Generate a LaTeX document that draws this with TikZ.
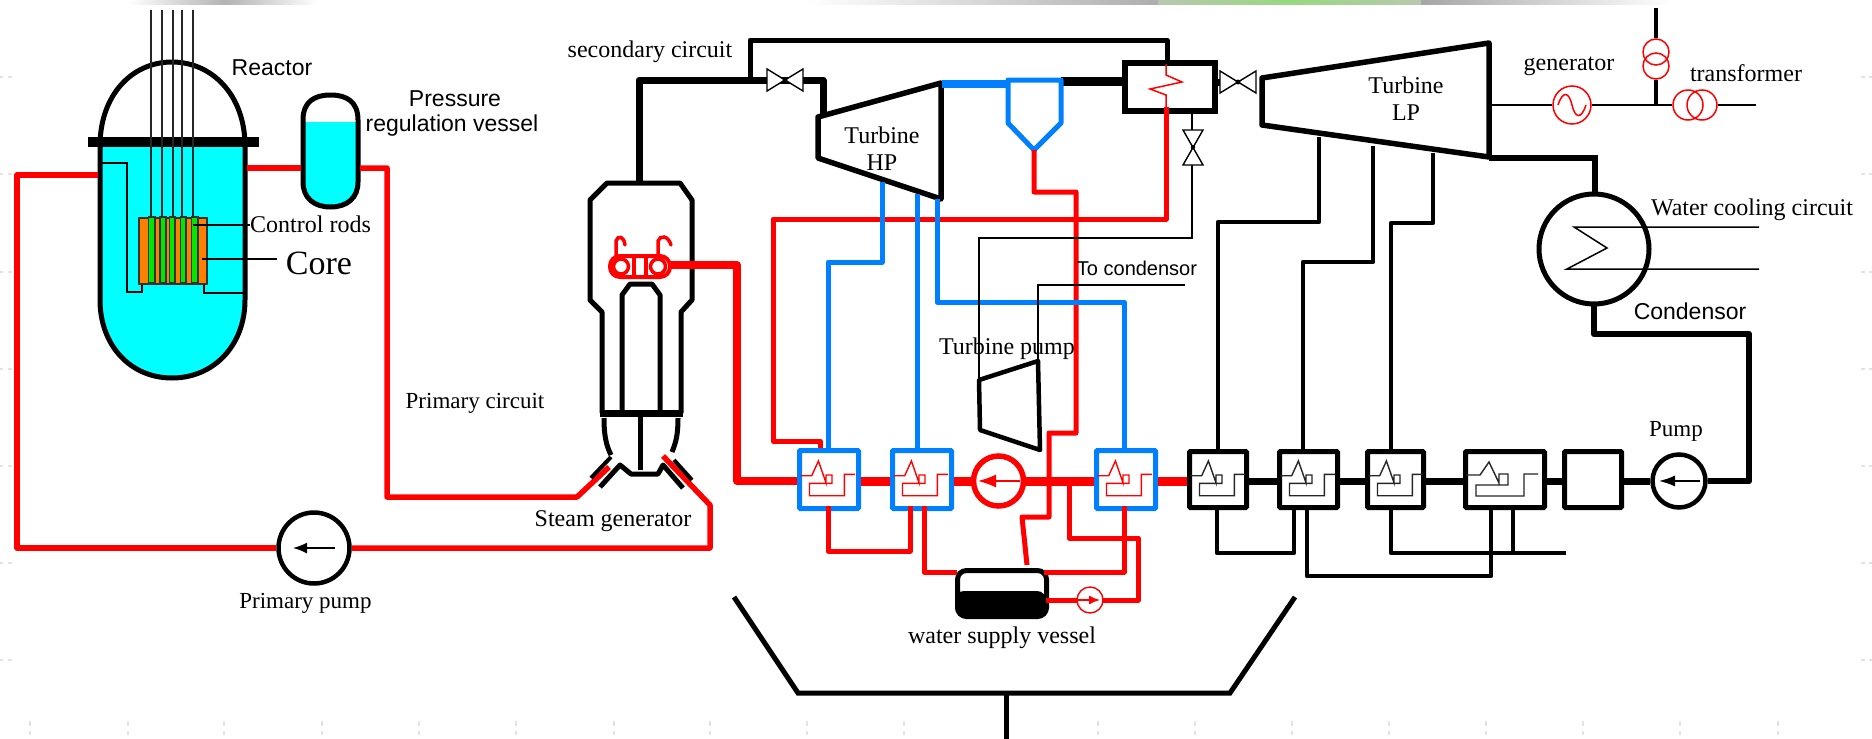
\documentclass[tikz,border=0pt]{standalone}
\usepackage{fontspec}
\setmainfont{Liberation Serif}
\newfontfamily\lsans{Liberation Sans}
\usetikzlibrary{arrows.meta}
\definecolor{rd}{HTML}{FF0000}
\definecolor{bl}{HTML}{0080FF}
\definecolor{cy}{HTML}{00FFFF}
\definecolor{og}{HTML}{FF8000}
\definecolor{gn}{HTML}{00E800}
\definecolor{pg}{HTML}{98D880}
\definecolor{gg}{HTML}{B8C8B0}
\newcommand{\serifat}[1]{\fontsize{#1}{#1}\selectfont}
\newcommand{\heater}[3]{% x, ycentre, colour
  \draw[#3,line width=1.4pt,line join=miter] (#1+3.6,#2-5.3)--(#1+14.7,#2-5.3)--(#1+21.4,#2-20)--(#1+29,#2+1.7)--(#1+29,#2-6)--(#1+35,#2-6)--(#1+35,#2+2.3)--(#1+12.5,#2+2.3)--(#1+12.5,#2+14.7)--(#1+47.3,#2+14.7)--(#1+47.3,#2-6.7)--(#1+58,#2-6.7);}
\newcommand{\bowh}[2]{% horizontal valve
  \draw[black,line width=1.4pt,fill=white] (#1-18,#2-11)--(#1+18,#2+11)--(#1+18,#2-11)--(#1-18,#2+11)--cycle;
  \fill (#1,#2) circle (2.5);}
\tikzset{
  x=1pt,y=-1pt,
  thinl/.style={black,line width=1.5pt},
  redp/.style={rd,line width=5.5pt,line join=round},
  bluep/.style={bl,line width=5pt,line join=round},
  blackp/.style={black,line width=4.5pt,line join=round},
  thick black/.style={black,line width=7pt,line join=round},
  wall/.style={black,line width=5pt,line join=round},
  fwh/.style={draw,fill=white,line width=5pt,inner sep=0pt,rounded corners=1pt},
  pumpc/.style={draw,circle,fill=white,inner sep=0pt},
  txt/.style={inner sep=0pt,font=\serifat{24}},
  stxt/.style={inner sep=0pt,font=\lsans\serifat{23}},
  tick/.style={black!11,line width=1.3pt},
}
\begin{document}
\begin{tikzpicture}
\useasboundingbox (0,0) rectangle (1872,739);
\fill[white] (0,0) rectangle (1872,739);
% faint top strip and page ticks
\shade[left color=white,right color=black!30] (128,0) rectangle (225,4.5);
\shade[left color=black!30,right color=white] (225,0) rectangle (318,4.5);
\shade[left color=white,right color=black!32] (807,0) rectangle (1158,4.5);
\shade[left color=gg,right color=pg] (1158,0) rectangle (1290,4.5);
\shade[left color=pg,right color=gg] (1290,0) rectangle (1421,4.5);
\shade[left color=black!35,right color=white] (1421,0) rectangle (1672,4.5);
\foreach \yy in {77,174,272,369,466,563,660}{
  \draw[tick] (0,\yy)--(3,\yy) (8,\yy)--(12,\yy);
  \draw[tick] (1861,\yy)--(1865,\yy) (1869,\yy)--(1872,\yy);}
\foreach \xx in {30,128,224,322,419,516,614,710,807,904,1098,1195,1292,1389,1486,1583,1680,1778}{
  \draw[tick] (\xx,721)--(\xx,726) (\xx,731)--(\xx,735);}

% ---------- control rods (above dome) and reactor ----------
\draw[wall,fill=white] (100,146) .. controls (100,95) and (132,62) .. (172,62) .. controls (212,62) and (245,95) .. (245,146);
\path[fill=cy] (100,146)--(100,300) .. controls (100,345) and (130,378) .. (172,378) .. controls (214,378) and (245,345) .. (245,300)--(245,146)--cycle;
\draw[wall] (100,146)--(100,300) .. controls (100,345) and (130,378) .. (172,378) .. controls (214,378) and (245,345) .. (245,300)--(245,146);
\draw[black,line width=10pt] (88,142)--(259,142);
\draw[thinl] (102,163)--(127,163)--(127,292)--(142,292)--(142,283);
\draw[thinl] (204,283)--(204,293)--(243,293);
% core
\node[draw=black!80,fill=og,line width=1.5pt,minimum width=68pt,minimum height=66pt,inner sep=0pt,anchor=north west] (core) at (138,217) {};
\foreach \aa/\bb in {148.5/155,160/166,169.5/175,180.5/186,191.5/198}{
  \draw[black!80,line width=1.2pt,fill=gn] (\aa,217) rectangle (\bb,283);}
\foreach \xx in {151,162,173,182,193}{
  \draw[black!85,line width=1.5pt] (\xx,10)--(\xx,217);}
% pressure vessel
\path[fill=white] (303,122)--(303,120) .. controls (303,102) and (314,95) .. (330.5,95) .. controls (347,95) and (358,102) .. (358,120)--(358,122)--cycle;
\path[fill=cy] (303,122)--(358,122)--(358,182) .. controls (358,198) and (347,207) .. (330.5,207) .. controls (314,207) and (303,198) .. (303,182)--cycle;
\draw[wall] (303,120) .. controls (303,102) and (314,95) .. (330.5,95) .. controls (347,95) and (358,102) .. (358,120)--(358,182) .. controls (358,198) and (347,207) .. (330.5,207) .. controls (314,207) and (303,198) .. (303,182)--cycle;

% primary pipes
\node[pumpc,draw=black,line width=4.5pt,minimum size=71pt] (ppump) at (314,548) {};
\coordinate (sgin) at (609,467);
\coordinate (sgout) at (663,456);
\coordinate (rin) at (98,175);
\coordinate (rout) at (247,168);
\coordinate (pvl) at (301,168);
\coordinate (pvr) at (360,168);
\draw[redp] (rin)--(17,175)--(17,548)--(ppump.west);
\draw[redp] (ppump.east)--(710,548)--(710,505)--(sgout);
\draw[redp] (rout)--(pvl);
\draw[redp] (pvr)--(387,168)--(387,497)--(577,497)--(sgin);
\draw[black,line width=1.5pt,-{Latex[length=14pt,width=11pt]}] (335,548)--(293,548);

% steam generator
\draw[wall,line join=round] (602,413)--(602,312)--(590,300)--(590,200)--(607,183)--(680,183)--(692,200)--(692,300)--(681,312)--(681,413);
\draw[wall] (622,413)--(622,295)--(630,284)--(652,284)--(660,295)--(660,413);
\draw[black,line width=7pt] (600,413)--(683,413);
\draw[wall] (604,418) .. controls (604,435) and (606,445) .. (611,455);
\draw[wall] (678,418) .. controls (678,435) and (676,442) .. (672,452);
\draw[wall] (640,413)--(640,470);
\draw[wall] (600,487)--(620,465)--(631,474)--(658,474)--(663,465)--(683,488);
\draw[black,line width=4pt] (591,478)--(611,457);
\draw[black,line width=4pt] (692,480)--(674,460);
% steam generator tube heads
\draw[rd,line width=4pt,fill=white,rounded corners=10pt] (610,256) rectangle (670,277);
\draw[rd,line width=4pt] (634,258)--(634,275) (646,258)--(646,275);
\draw[rd,line width=3.5pt] (621,266.5) circle (7.5);
\draw[rd,line width=3.5pt] (658,266.5) circle (7.5);
\draw[rd,line width=3.5pt,line cap=round] (616,256)--(616,241) .. controls (618,235) and (624,236) .. (625,245);
\draw[rd,line width=3.5pt,line cap=round] (658,256)--(658,241) .. controls (660,235) and (668,235) .. (671,245);
\draw[rd,line width=8pt,line join=round] (669,265)--(737,265)--(737,481)--(797,481);

% red main line under boxes
\coordinate (ml) at (0,481);
\node[pumpc,draw=rd,line width=5.5pt,minimum size=50pt] (fpump) at (998.5,481) {};
\node[fwh,draw=bl,minimum width=59pt,minimum height=58pt,anchor=north west] (f1) at (797,448) {};
\node[fwh,draw=bl,minimum width=59pt,minimum height=58pt,anchor=north west] (f2) at (890,448) {};
\node[fwh,draw=bl,minimum width=59pt,minimum height=58pt,anchor=north west] (f3) at (1094,448) {};
\node[fwh,minimum width=57pt,minimum height=56pt,anchor=north west] (f4) at (1187,449) {};
\node[fwh,minimum width=58pt,minimum height=56pt,anchor=north west] (f5) at (1277,449) {};
\node[fwh,minimum width=56pt,minimum height=56pt,anchor=north west] (f6) at (1365,449) {};
\node[fwh,minimum width=79pt,minimum height=56pt,anchor=north west] (f7) at (1463,449) {};
\node[fwh,minimum width=57pt,minimum height=56pt,anchor=north west] (f8) at (1562,449) {};
\node[pumpc,draw=black,line width=4.5pt,minimum size=53pt] (cpump) at (1679,481) {};

\draw[rd,line width=9pt] (f1.east|-ml)--(f2.west|-ml);
\draw[rd,line width=9pt] (f2.east|-ml)--(fpump.west);
\draw[rd,line width=9pt] (fpump.east)--(f3.west|-ml);
\draw[rd,line width=9pt] (f3.east|-ml)--(f4.west|-ml);
\draw[black,line width=7pt] (f4.east|-ml)--(f5.west|-ml);
\draw[black,line width=7pt] (f5.east|-ml)--(f6.west|-ml);
\draw[black,line width=7pt] (f6.east|-ml)--(f7.west|-ml);
\draw[black,line width=7pt] (f7.east|-ml)--(f8.west|-ml);
\draw[black,line width=7pt] (f8.east|-ml)--(cpump.west);
\draw[thick black,line width=6.5pt] (cpump.east)--(1749,481)--(1749,334)--(1594,334)--(1594,303);

\heater{797}{481}{rd}
\heater{890}{481}{rd}
\heater{1094}{481}{rd}
\heater{1187}{481}{black!85}
\heater{1277}{481}{black!85}
\heater{1365}{481}{black!85}
\draw[black!85,line width=1.4pt] (1466,475)--(1480,475)--(1489,462)--(1499,483)--(1499,474)--(1508,474)--(1508,485)--(1476,485)--(1476,496)--(1524,496)--(1524,474)--(1538,474);
\draw[rd,line width=1.5pt,-{Latex[length=18pt,width=13pt]}] (1020,481)--(978,481);
\draw[black,line width=1.5pt,-{Latex[length=16pt,width=11pt]}] (1700,481)--(1659,481);

% turbine HP
\draw[black,line width=5.5pt,line join=round,fill=white] (818,117)--(941,83)--(941,199)--(818,158)--cycle;
\node[txt] (thp1) at (882,135) {Turbine};
\node[txt] (thp2) at (882,163) {HP};
% steam main
\draw[thick black] (639,181)--(639,80)--(823,80)--(823,115);
\draw[black,line width=5pt,line join=round] (750,79)--(750,40)--(1167,40)--(1167,60);
\bowh{785}{80}
% reheater
\node[draw=black,fill=white,line width=5.5pt,minimum width=90pt,minimum height=48pt,inner sep=0pt,anchor=north west] (rh) at (1122,60) {};
\coordinate (rhin) at (1166,64);
\coordinate (rhout) at (1166,107);
\coordinate (rhw) at (1125,81);
\coordinate (rhe) at (1212,82);
\draw[rd,line width=1.5pt] (rhin)--(1166,75)--(1182,82)--(1150,89)--(1166,95)--(rhout);
\draw[redp,line width=5pt] (rhout)--(1166,219)--(773,219)--(773,441)--(820,441)--(820,448);
% separator
\coordinate (sep) at (1034,150);
\draw[black,line width=9pt] (1061,81)--(rhw);
\draw[bl,line width=8pt] (942,84)--(1008,84);
\draw[bluep,fill=white] (1008,80)--(1061,80)--(1061,123)--(sep)--(1008,123)--cycle;
\draw[redp,line width=5pt] (sep)--(1034,192)--(1076,192)--(1076,433)--(1049,433)--(1049,517)--(1022,517)--(1027,565);
% extraction blue
\draw[bluep] (882,182)--(882,262)--(828,262)--(828,448);
\draw[bluep] (917,194)--(917,448);
\draw[bluep] (937,199)--(937,302)--(1124,302)--(1124,448);
% thin lines + turbine pump
\draw[wall,fill=none,line width=4.5pt] (979,380)--(1038,361)--(1040,450)--(980,430)--cycle;
\draw[thinl] (1192,110)--(1192,238)--(979,238)--(979,380);
\draw[thinl] (1185,285)--(1038,285)--(1038,361);
\draw[black,line width=1.4pt,fill=white] (1183,130)--(1203,165)--(1183,165)--(1203,130)--cycle;
\fill (1193,147) circle (2.2);
% LP turbine
\draw[black,line width=5.5pt,line join=round,fill=white] (1262,78)--(1489,43)--(1489,157)--(1262,125)--cycle;
\node[txt] (tlp1) at (1406,85) {Turbine};
\node[txt] (tlp2) at (1406,113) {LP};
\draw[black,line width=7pt] (rhe)--(1224,82);
\bowh{1238}{82}
\draw[black,line width=6pt] (1489,158)--(1595,158)--(1595,193);
% LP extraction
\draw[blackp] (1319,137)--(1319,222)--(1218,222)--(1218,449);
\draw[blackp] (1373,146)--(1373,262)--(1303,262)--(1303,449);
\draw[blackp] (1433,153)--(1433,223)--(1391,223)--(1391,449);
% condensate
\draw[blackp] (1217,506)--(1217,553)--(1294,553)--(1294,506);
\draw[blackp] (1307,506)--(1307,576)--(1491,576)--(1491,506);
\draw[blackp] (1391,506)--(1391,553)--(1566,553);
\draw[blackp] (1513,506)--(1513,553);
% condenser
\node[pumpc,draw=black,line width=5pt,minimum size=110pt] (cond) at (1594,249) {};
\draw[thinl] (1759,227)--(1574,227)--(1607,248)--(1567,269)--(1759,269);
% red below
\draw[redp,line width=5pt] (828,506)--(828,551)--(910,551)--(910,506);
\node[draw=black,fill=white,line width=5pt,rounded corners=9pt,minimum width=89pt,minimum height=46pt,inner sep=0pt,anchor=north west] (ves) at (955,568) {};
\draw[redp,line width=5pt] (924,506)--(924,572)--(957,572);
\draw[redp,line width=5pt] (1044,572)--(1124,572)--(1124,506);
\draw[redp,line width=5pt] (1069,484)--(1069,538)--(1138,538)--(1138,600)--(1046,600);
\fill[black,rounded corners=9pt] (955,591) rectangle (1046,616);
\node[pumpc,draw=rd,line width=1.4pt,minimum size=26pt] (spump) at (1090,600) {};
\draw[rd,line width=1.4pt,-{Latex[length=11pt,width=9pt]}] (1078,600)--(1100,600);
% bottom structure
\coordinate (bl1) at (734,597);
\coordinate (bl2) at (798,693);
\coordinate (bl3) at (1230,693);
\coordinate (bl4) at (1295,597);
\draw[wall,line join=miter] (bl1)--(bl2)--(bl3)--(bl4);
\draw[black,line width=5pt] (1006,693)--(1006,739);
% generator side
\node[pumpc,draw=rd,line width=1.5pt,minimum size=38pt] (gen) at (1572,105) {};
\draw[rd,line width=1.5pt] (1558,105) .. controls (1563,90) and (1569,92) .. (1572,105) .. controls (1575,118) and (1581,120) .. (1586,105);
\draw[thinl] (1491,105)--(gen.west);
\node[pumpc,draw=rd,line width=1.5pt,minimum size=30pt,fill=none] (tr1) at (1688,105) {};
\node[pumpc,draw=rd,line width=1.5pt,minimum size=30pt,fill=none] (tr2) at (1702,105) {};
\draw[thinl] (gen.east)--(tr1.west);
\draw[thinl] (tr2.east)--(1756,105);
\node[pumpc,draw=rd,line width=1.5pt,minimum size=26pt,fill=none] (tv1) at (1656,52) {};
\node[pumpc,draw=rd,line width=1.5pt,minimum size=26pt,fill=none] (tv2) at (1656,66) {};
\draw[black,line width=4pt] (1656,8)--(tv1.north);
\draw[black,line width=4pt] (tv2.south)--(1656,105);
% leaders
\draw[thinl] (193,225)--(250,225);
\draw[thinl] (202,259)--(277,259);
% labels
\node[stxt] (l1) at (272,68) {Reactor};
\node[stxt] (l2) at (455,99) {Pressure};
\node[stxt] (l3) at (452,126) {regulation vessel};
\node[txt] (l4) at (310.5,224) {Control rods};
\node[txt,font=\serifat{34}] (l5) at (319,263) {Core};
\node[txt] (l6) at (650,52) {secondary circuit};
\node[stxt,font=\lsans\serifat{20}] (l7) at (1137,268) {To condensor};
\node[txt] (l8) at (1007,349) {Turbine pump};
\node[txt,font=\serifat{23}] (l9) at (475,403) {Primary circuit};
\node[txt] (l10) at (613,521) {Steam generator};
\node[txt,font=\serifat{23}] (l11) at (305.5,603) {Primary pump};
\node[txt] (l12) at (1002,638) {water supply vessel};
\node[txt] (l13) at (1569,66) {generator};
\node[txt] (l14) at (1746,73) {transformer};
\node[txt] (l15) at (1752,210) {Water cooling circuit};
\node[stxt] (l16) at (1690,311) {Condensor};
\node[txt,font=\serifat{23}] (l17) at (1676,431) {Pump};
\end{tikzpicture}
\end{document}
